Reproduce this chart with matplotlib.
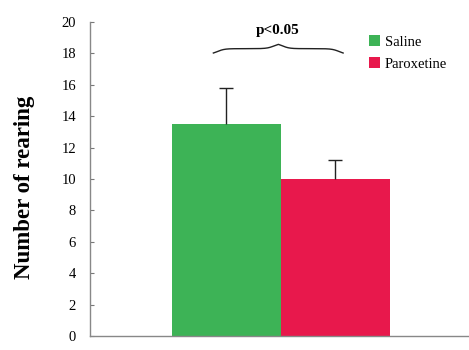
import numpy as np
import matplotlib.pyplot as plt
from matplotlib.patches import Patch

# Data
groups = ['Saline', 'Paroxetine']
means = [13.5, 10.0]
errors = [2.3, 1.2]
colors = ['#3db356', '#e8184c']
p_text = 'p<0.05'

plt.rcParams['font.family'] = ['Liberation Serif', 'DejaVu Serif']

fig = plt.figure(figsize=(4.69, 3.5), dpi=100)
ax = fig.add_axes([90 / 469, 14 / 350, 379 / 469, 314 / 350])

x = np.arange(len(groups))
tops = np.array(means) + np.array(errors)
ax.bar(x, means, width=1.0, color=colors, edgecolor='none', zorder=2)
# upward-only error bars
ax.vlines(x, means, tops, color='#222222', lw=1.0, zorder=3)
ax.plot(x, tops, ls='none', marker='_', ms=10, mew=1.0, color='#222222', zorder=3)

ax.set_xlim(-1.252, 2.225)
ax.set_ylim(0, 20)
ax.set_yticks(np.arange(0, 21, 2))
ax.set_xticks([])
ax.tick_params(axis='y', direction='in', length=3, width=0.8, color='#777777',
               labelsize=10.5, pad=10)
for s in ['top', 'right']:
    ax.spines[s].set_visible(False)
for s in ['left', 'bottom']:
    ax.spines[s].set_color('#888888')
    ax.spines[s].set_linewidth(1.0)
ax.set_ylabel('Number of rearing', fontsize=16.5, fontweight='bold')
ax.yaxis.set_label_coords(-0.145, 0.475)

# curly brace over the two bars
def brace(x0, x1, y, h):
    t = np.linspace(0, 1, 400)
    half = np.where(t < 0.5, t * 2, (1 - t) * 2)
    k = 18.0
    yy = (1 / (1 + np.exp(-k * (half - 0.06))) + 1 / (1 + np.exp(-k * (half - 0.94)))) / 2
    yy = (yy - yy.min()) / (yy.max() - yy.min())
    return x0 + (x1 - x0) * t, y + h * (yy - 0.5)

bx, by = brace(x[0] - 0.12, x[1] + 0.07, 18.3, 0.55)
ax.plot(bx, by, color='#222222', lw=1.0, clip_on=False)
ax.text((x[0] + x[1]) / 2 - 0.03, 19.05, p_text, ha='center', va='bottom',
        fontsize=11, fontweight='bold')

handles = [Patch(facecolor=c, edgecolor='none', label=g) for g, c in zip(groups, colors)]
fig.legend(handles=handles, loc='upper left', bbox_to_anchor=(362 / 469, 1 - 28 / 350),
           frameon=False, fontsize=10.5, handlelength=0.75, handleheight=0.75,
           handletextpad=0.3, labelspacing=0.6, borderpad=0)

fig.savefig('out.png', dpi=100)
